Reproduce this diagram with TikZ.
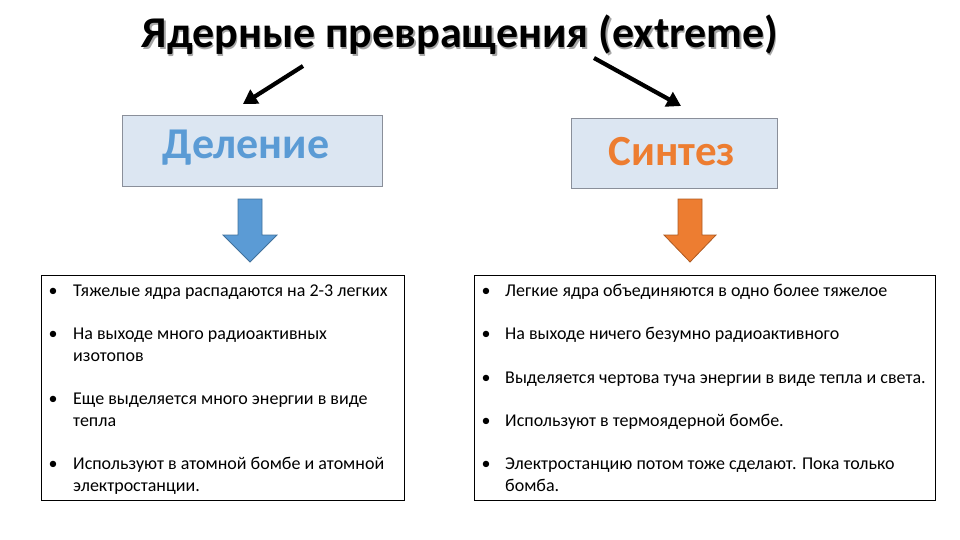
\documentclass[tikz,border=0pt]{standalone}
\usepackage{fontspec}
\setmainfont{Carlito}
\usetikzlibrary{arrows.meta}
\definecolor{boxfill}{HTML}{DCE6F2}
\definecolor{boxline}{HTML}{8A8F9A}
\definecolor{bluetxt}{HTML}{5B9BD5}
\definecolor{orangetxt}{HTML}{ED7D31}
\definecolor{bluearrow}{HTML}{5B9BD5}
\definecolor{bluearrowline}{HTML}{41719C}
\definecolor{orangearrow}{HTML}{ED7D31}
\definecolor{orangearrowline}{HTML}{AE5A21}
\tikzset{
  titletext/.style={font=\fontsize{44}{44}\selectfont\bfseries, inner sep=0pt, anchor=base},
  headbox/.style={draw=boxline, fill=boxfill, line width=0.8pt},
  listbox/.style={draw=black, line width=0.9pt},
  item/.style={font=\fontsize{18}{21.5}\selectfont, inner sep=0pt, anchor=base west, align=left},
  bul/.style={font=\fontsize{18}{21.5}\selectfont, inner sep=0pt, anchor=base},
  pointer/.style={line width=4.2pt, -{Triangle[length=14pt,width=16pt]}},
}
\begin{document}
\begin{tikzpicture}[x=1pt,y=-1pt]
\useasboundingbox (0,0) rectangle (960,540);
% title with shadow
\node[titletext, text=black!35] at (461.5,49.5) {Ядерные превращения (extreme)};
\node[titletext] (title) at (460,48) {Ядерные превращения (extreme)};
\coordinate (la0) at (303,66);
\coordinate (la1) at (243,104);
\coordinate (ra0) at (594,58);
\coordinate (ra1) at (681,106);
\draw[pointer] (la0) -- (la1);
\draw[pointer] (ra0) -- (ra1);
% head boxes
\node[headbox, minimum width=260pt, minimum height=71pt, inner sep=0pt] (fission) at (252,150.5) {};
\node[font=\fontsize{44}{44}\selectfont\bfseries, text=bluetxt, inner sep=0pt, anchor=base] (fissiontxt) at (246,159) {Деление};
\node[headbox, minimum width=206pt, minimum height=70pt, inner sep=0pt] (fusion) at (674,153) {};
\node[font=\fontsize{43}{43}\selectfont\bfseries, text=orangetxt, inner sep=0pt, anchor=base] (fusiontxt) at (672,166) {Синтез};
% block arrows
\draw[fill=bluearrow, draw=bluearrowline, line width=0.8pt]
  (238,199) -- (262,199) -- (262,235) -- (277,235) -- (250,262) -- (223,235) -- (238,235) -- cycle;
\draw[fill=orangearrow, draw=orangearrowline, line width=0.8pt]
  (678,199) -- (702,199) -- (702,235) -- (716,235) -- (690,262) -- (664,235) -- (678,235) -- cycle;
% list boxes
\draw[listbox] (41,275) rectangle (404,500);
\draw[listbox] (474,275) rectangle (935,500);
% left items
\node[bul] (lb1) at (53,296) {•};
\node[item] (l1) at (73,296) {Тяжелые ядра распадаются на 2-3 легких};
\node[bul] (lb2) at (53,339) {•};
\node[item] (l2) at (73,361) {На выходе много радиоактивных\\изотопов};
\node[bul] (lb3) at (53,404) {•};
\node[item] (l3) at (73,426) {Еще выделяется много энергии в виде\\тепла};
\node[bul] (lb4) at (53,469) {•};
\node[item] (l4) at (73,491) {Используют в атомной бомбе и атомной\\электростанции.};
% right items
\node[bul] (rb1) at (486,296) {•};
\node[item] (r1) at (505,296) {Легкие ядра объединяются в одно более тяжелое};
\node[bul] (rb2) at (486,339) {•};
\node[item] (r2) at (505,339) {На выходе ничего безумно радиоактивного};
\node[bul] (rb3) at (486,383) {•};
\node[item] (r3) at (505,383) {Выделяется чертова туча энергии в виде тепла и света.};
\node[bul] (rb4) at (486,426) {•};
\node[item] (r4) at (505,426) {Используют в термоядерной бомбе.};
\node[bul] (rb5) at (486,469) {•};
\node[item] (r5) at (505,491) {Электростанцию потом тоже сделают. Пока только\\бомба.};
\end{tikzpicture}
\end{document}
